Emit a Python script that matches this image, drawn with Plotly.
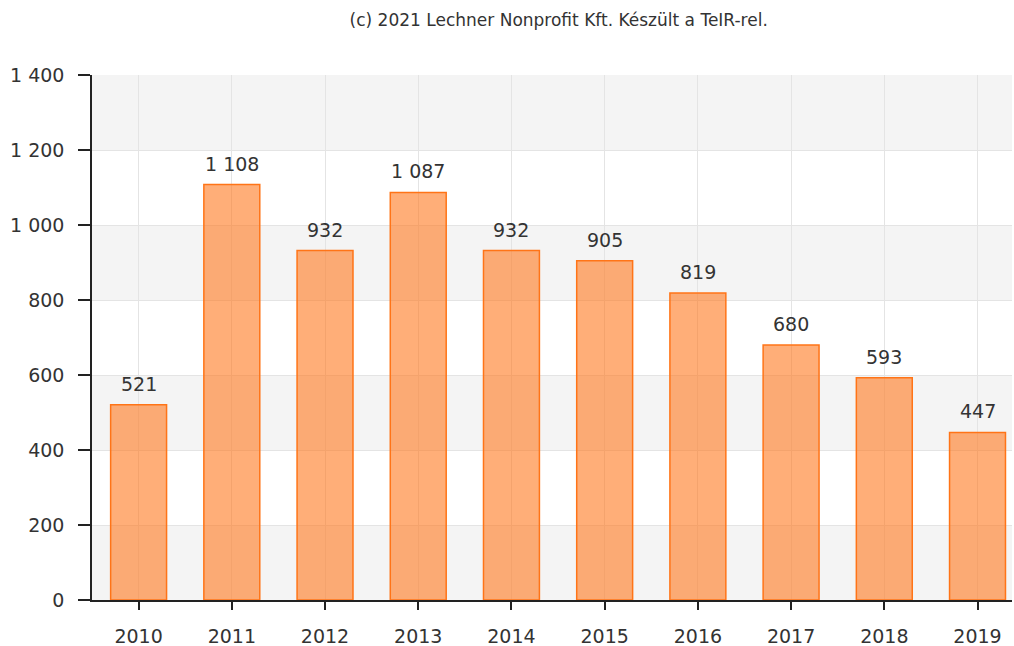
import plotly.graph_objects as go

years = ["2010", "2011", "2012", "2013", "2014", "2015", "2016", "2017", "2018", "2019"]
values = [521, 1108, 932, 1087, 932, 905, 819, 680, 593, 447]
y_ticks = [0, 200, 400, 600, 800, 1000, 1200, 1400]
title_text = "(c) 2021 Lechner Nonprofit Kft. Készült a TeIR-rel."

font_family = "DejaVu Sans"
text_color = "#333333"

W, H = 1014, 646

fig = go.Figure()
fig.add_trace(go.Bar(
    x=years, y=values, width=0.6,
    marker=dict(color="rgba(255,120,30,0.6)", line=dict(color="#FF7417", width=1.5)),
    hoverinfo="x+y",
))

# value labels (x given as category index, since the category names look numeric)
for i, v in enumerate(values):
    fig.add_annotation(x=i, y=v, xref="x", yref="y", text=f"{v:,d}".replace(",", " "),
                       showarrow=False, yanchor="bottom", yshift=8,
                       font=dict(family=font_family, size=19, color=text_color))

# alternating background bands
for i in range(0, len(y_ticks) - 1, 2):
    fig.add_shape(type="rect", xref="paper", yref="y", x0=0, x1=1,
                  y0=y_ticks[i], y1=y_ticks[i + 1],
                  fillcolor="#f4f4f4", line_width=0, layer="below")

fig.update_layout(
    width=W, height=H,
    margin=dict(l=92, r=2, t=75, b=46, autoexpand=False),
    paper_bgcolor="white", plot_bgcolor="white",
    separators=", ",
    showlegend=False,
    title=dict(text=title_text, x=0.551, xanchor="center", y=0.969, yanchor="middle",
               font=dict(family=font_family, size=17, color=text_color)),
    xaxis=dict(type="category", range=[-0.5, 9.37], showline=True, linecolor="#222", linewidth=1.5,
               ticks="outside", ticklen=8, tickcolor="#222", tickwidth=1.5,
               showgrid=True, gridcolor="#e4e4e4", gridwidth=1, automargin=False,
               ticklabelstandoff=10,
               tickfont=dict(family=font_family, size=19, color=text_color)),
    yaxis=dict(range=[0, 1400], tickvals=y_ticks, tickformat=",d", showline=True,
               linecolor="#222", linewidth=1.5, ticks="outside", ticklen=12, tickcolor="#222",
               tickwidth=1.5, showgrid=True, gridcolor="#e4e4e4", gridwidth=1, zeroline=False,
               ticklabelstandoff=10, automargin=False,
               tickfont=dict(family=font_family, size=19, color=text_color)),
    bargap=0.4,
)

fig.write_html("out.html", config={"displayModeBar": False},
               post_script="document.body.style.margin='0';document.body.style.overflow='hidden';")
